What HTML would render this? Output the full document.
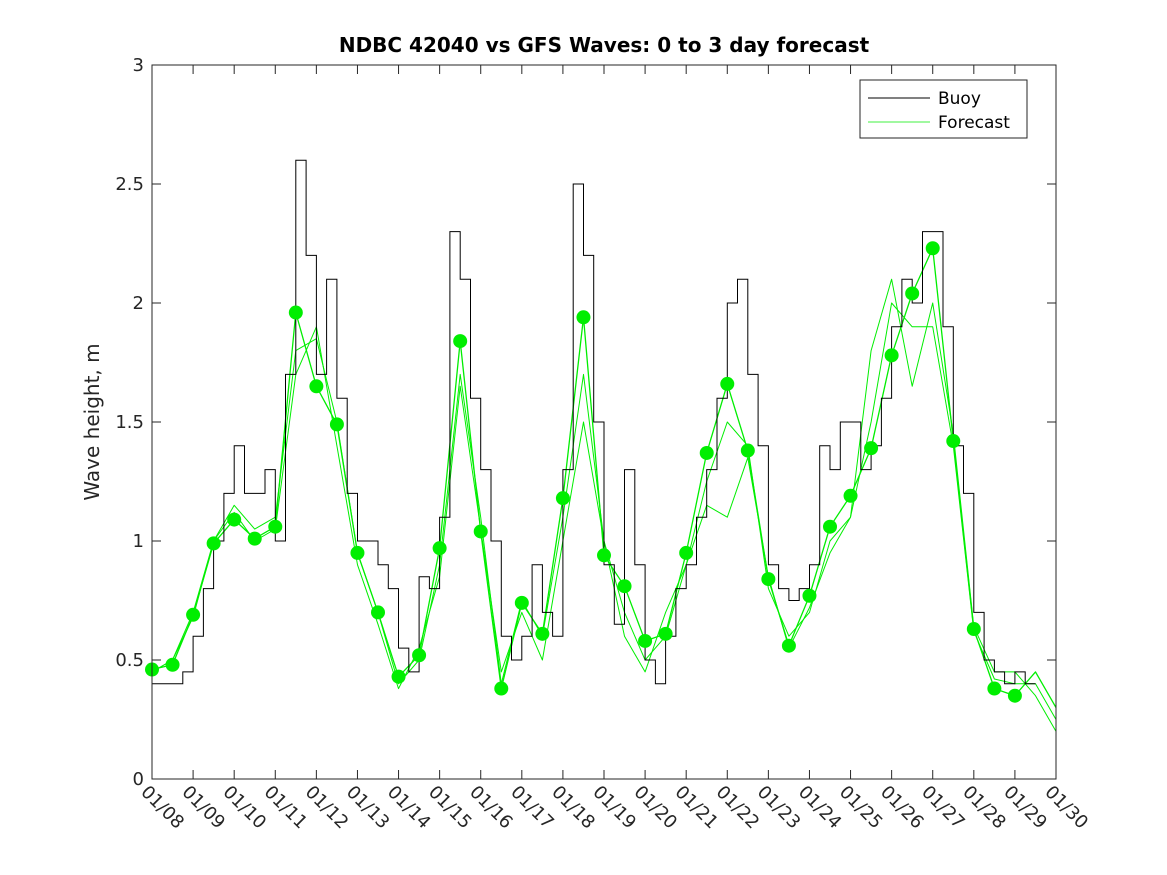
<!DOCTYPE html>
<html><head><meta charset="utf-8"><style>
body{margin:0;background:#fff;}
svg{display:block;font-family:"DejaVu Sans","Liberation Sans",sans-serif;}
</style></head><body>
<svg id="chart" width="1167" height="875" xmlns="http://www.w3.org/2000/svg">
<rect x="0" y="0" width="1167" height="875" fill="#fff"/>
<text x="604" y="52" text-anchor="middle" font-size="20" font-weight="bold" fill="#000">NDBC 42040 vs GFS Waves: 0 to 3 day forecast</text>
<text transform="translate(99,422) rotate(-90)" text-anchor="middle" font-size="20" fill="#262626">Wave height, m</text>
<g id="axes"></g>
<g id="series"></g>
<rect x="152" y="65" width="904" height="714" fill="none" stroke="#262626" stroke-width="1"/>
<g>
<rect x="860" y="80" width="167" height="58" fill="#fff" stroke="#262626"/>
<line x1="868" y1="98" x2="930" y2="98" stroke="#000"/>
<text x="938" y="104" font-size="17" fill="#000">Buoy</text>
<line x1="868" y1="122" x2="930" y2="122" stroke="#00ee00" stroke-width="0.8"/>
<text x="938" y="128" font-size="17" fill="#000">Forecast</text>
</g>
</svg>
<script>
const yTicks=[0,0.5,1,1.5,2,2.5,3];
const yTickLabels=["0","0.5","1","1.5","2","2.5","3"];
const xTickLabels=["01/08","01/09","01/10","01/11","01/12","01/13","01/14","01/15","01/16","01/17","01/18","01/19","01/20","01/21","01/22","01/23","01/24","01/25","01/26","01/27","01/28","01/29","01/30"];
// buoy: 6-hourly values starting 01/08 00Z
const buoy=[0.4,0.4,0.4,0.45, 0.6,0.8,1.0,1.2, 1.4,1.2,1.2,1.3, 1.0,1.7,2.6,2.2, 1.7,2.1,1.6,1.2, 1.0,1.0,0.9,0.8, 0.55,0.45,0.85,0.8, 1.1,2.3,2.1,1.6, 1.3,1.0,0.6,0.5, 0.6,0.9,0.7,0.6, 1.3,2.5,2.2,1.5, 0.9,0.65,1.3,0.9, 0.5,0.4,0.6,0.8, 0.9,1.1,1.3,1.6, 2.0,2.1,1.7,1.4, 0.9,0.8,0.75,0.8, 0.9,1.4,1.3,1.5, 1.5,1.3,1.4,1.6, 1.9,2.1,2.0,2.3, 2.3,1.9,1.4,1.2, 0.7,0.5,0.45,0.4, 0.45,0.4];
// forecast: 12-hourly values from 01/08 00Z (analysis dots)
const fcLead0=[0.46,0.48,0.69,0.99,1.09,1.01,1.06,1.96,1.65,1.49,0.95,0.70,0.43,0.52,0.97,1.84,1.04,0.38,0.74,0.61,1.18,1.94,0.94,0.81,0.58,0.61,0.95,1.37,1.66,1.38,0.84,0.56,0.77,1.06,1.19,1.39,1.78,2.04,2.23,1.42,0.63,0.38,0.35,0.45,0.3];
const fcLead2=[0.45,0.5,0.7,1.0,1.15,1.05,1.1,1.8,1.85,1.5,0.95,0.7,0.4,0.5,0.9,1.7,1.1,0.4,0.75,0.6,1.1,1.7,1.0,0.7,0.5,0.6,0.9,1.25,1.5,1.4,0.8,0.6,0.7,1.0,1.1,1.5,2.0,1.9,1.9,1.4,0.62,0.42,0.4,0.4,0.25];
const fcLead3=[0.45,0.5,0.68,1.0,1.12,1.0,1.05,1.7,1.9,1.4,0.9,0.65,0.38,0.55,0.85,1.65,1.05,0.45,0.7,0.5,1.0,1.5,1.0,0.6,0.45,0.7,0.9,1.15,1.1,1.35,0.85,0.55,0.72,0.95,1.1,1.8,2.1,1.65,2.0,1.45,0.64,0.45,0.45,0.35,0.2];
const dotCount=43;

const NS="http://www.w3.org/2000/svg";
const X0=152,X1=1056,Y0=779,Y1=65,DAYS=22;
const xs=d=>X0+(X1-X0)*d/DAYS;
const ys=v=>Y0-(Y0-Y1)*v/3;
const axes=document.getElementById('axes');
const series=document.getElementById('series');
function mk(tag,attrs,parent){const e=document.createElementNS(NS,tag);for(const k in attrs)e.setAttribute(k,attrs[k]);parent.appendChild(e);return e;}

yTicks.forEach((v,i)=>{
  const y=ys(v);
  const t1=mk('line',{x1:X0,y1:y,x2:X0+9,y2:y,stroke:'#262626'},axes);
  
  
  const t2=mk('line',{x1:X1-9,y1:y,x2:X1,y2:y,stroke:'#262626'},axes);
  
  
  const tx=mk('text',{x:X0-8,y:y+6,'text-anchor':'end','font-size':18,fill:'#262626'},axes);
  tx.textContent=yTickLabels[i];
  
  
});
xTickLabels.forEach((lab,i)=>{
  const x=xs(i);
  const t1=mk('line',{x1:x,y1:Y0,x2:x,y2:Y0-9,stroke:'#262626'},axes);
  
  
  const t2=mk('line',{x1:x,y1:Y1,x2:x,y2:Y1+9,stroke:'#262626'},axes);
  
  
  const tx=mk('text',{transform:`translate(${x-12},${Y0+14}) rotate(45)`,'font-size':18,fill:'#262626'},axes);
  tx.textContent=lab;
  
  
});

function polyline(vals,step,color,w,name){
  const pts=vals.map((v,i)=>xs(i*step).toFixed(1)+','+ys(v).toFixed(1)).join(' ');
  const p=mk('polyline',{points:pts,fill:'none',stroke:color,'stroke-width':w,'stroke-linejoin':'round'},series);
  
  
}
polyline(fcLead3,0.5,'#00ee00',1,'forecast-line-lead3');
polyline(fcLead2,0.5,'#00ee00',1,'forecast-line-lead2');
polyline(fcLead0,0.5,'#00ee00',1.3,'forecast-line-lead0');

// buoy step line
let d='';
buoy.forEach((v,i)=>{
  const xa=xs(i*0.25),xb=xs((i+1)*0.25),y=ys(v);
  d+=(i===0?'M':'L')+xa.toFixed(1)+','+y.toFixed(1)+'L'+xb.toFixed(1)+','+y.toFixed(1);
});
const bp=mk('path',{d:d,fill:'none',stroke:'#000','stroke-width':1},series);



for(let i=0;i<dotCount;i++){
  const c=mk('circle',{cx:xs(i*0.5),cy:ys(fcLead0[i]),r:7,fill:'#00ee00'},series);
  
  
}
</script>
</body></html>
